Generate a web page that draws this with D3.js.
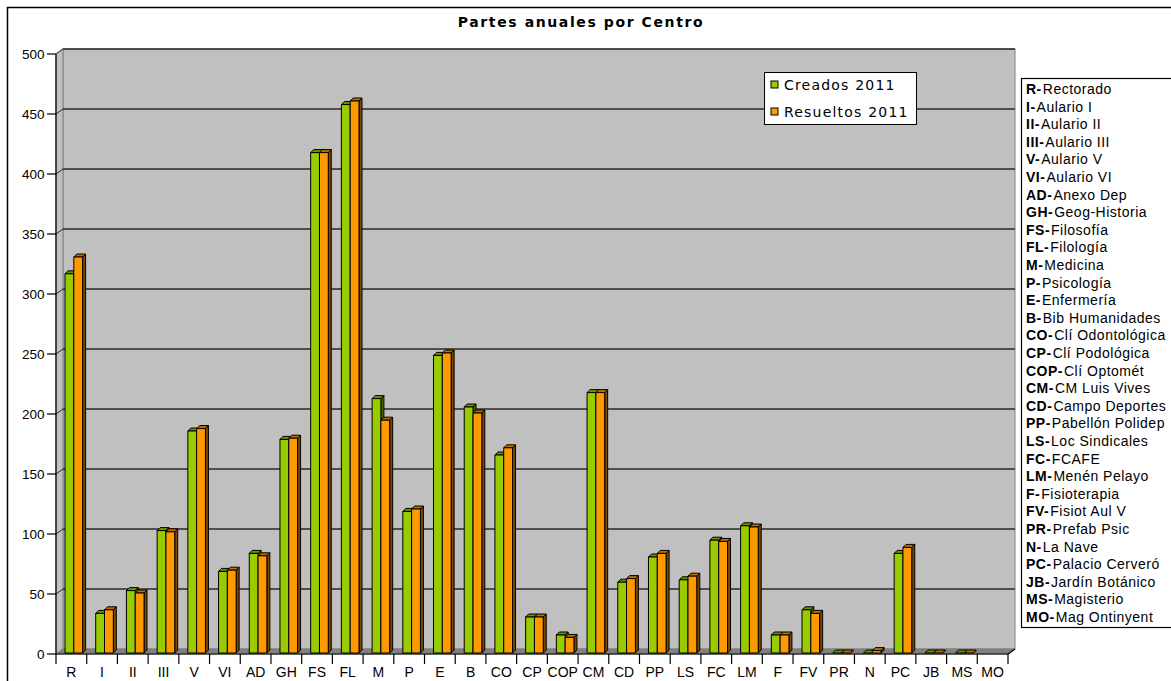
<!DOCTYPE html>
<html><head><meta charset="utf-8">
<script src="https://cdn.jsdelivr.net/npm/d3@7"></script>
<style>body{margin:0;background:#fff}svg{display:block}</style>
</head><body>
<svg id="c" width="1171" height="681"></svg>
<script>
const categories = ["R","I","II","III","V","VI","AD","GH","FS","FL","M","P","E","B","CO","CP","COP","CM","CD","PP","LS","FC","LM","F","FV","PR","N","PC","JB","MS","MO"];
const names = ["Rectorado","Aulario I","Aulario II","Aulario III","Aulario V","Aulario VI","Anexo Dep","Geog-Historia","Filosofía","Filología","Medicina","Psicología","Enfermería","Bib Humanidades","Clí Odontológica","Clí Podológica","Clí Optomét","CM Luis Vives","Campo Deportes","Pabellón Polidep","Loc Sindicales","FCAFE","Menén Pelayo","Fisioterapia","Fisiot Aul V","Prefab Psic","La Nave","Palacio Cerveró","Jardín Botánico","Magisterio","Mag Ontinyent"];
const creados   = [316,33,52,102,185,68,83,178,417,457,212,118,248,205,165,30,15,217,59,80,61,94,106,15,36,0,0,83,0,0,null];
const resueltos = [330,36,50,101,187,69,81,179,417,460,194,120,250,200,171,30,13,217,62,83,64,93,105,15,33,0,2,88,0,0,null];
const yTicks = [0,50,100,150,200,250,300,350,400,450,500];
const seriesNames = ["Creados 2011","Resueltos 2011"];

const svg = d3.select("#c");
const dx = 7, dy = 5;           // wall depth
const x = d3.scaleBand().domain(categories).range([56,1008]);
const y = d3.scaleLinear().domain([0,500]).range([654,54]);
const yb = v => y(v) - dy;      // back wall
const ybar = v => y(v) - 1;     // bar front

// outer frame
svg.append("path").attr("d","M7.5,681 V7.5 H1171").attr("fill","none").attr("stroke","#000").attr("stroke-width",1.5);

// title
svg.append("text").attr("x",581).attr("y",27).attr("text-anchor","middle")
  .attr("font-family","DejaVu Sans").attr("font-weight","bold").attr("font-size",14)
  .attr("letter-spacing",1.6).text("Partes anuales por Centro");

const x0 = x.range()[0], x1 = x.range()[1];
// back wall
svg.append("rect").attr("x",x0+dx).attr("y",yb(500)).attr("width",x1-x0).attr("height",y(0)-y(500))
  .attr("fill","#c0c0c0").attr("stroke","#808080");
// left wall
svg.append("path").attr("d",`M${x0},${y(500)} L${x0+dx},${yb(500)} L${x0+dx},${yb(0)} L${x0},${y(0)} Z`)
  .attr("fill","#c0c0c0").attr("stroke","#808080");
// gridlines
yTicks.filter(v=>v>0).forEach(v=>{
  svg.append("line").attr("x1",x0+dx).attr("x2",x1+dx).attr("y1",yb(v)).attr("y2",yb(v))
    .attr("stroke","#2a2a2a").attr("stroke-width",1.5);
  svg.append("line").attr("x1",x0).attr("x2",x0+dx).attr("y1",y(v)).attr("y2",yb(v))
    .attr("stroke","#2a2a2a").attr("stroke-width",1);
});
// floor
svg.append("path").attr("d",`M${x0},${y(0)} L${x0+dx},${yb(0)} L${x1+dx},${yb(0)} L${x1},${y(0)} Z`)
  .attr("fill","#808080").attr("stroke","#808080");

// bars
const bw = 8.8, off = 9, bd = 3;
const cols = [
  {front:"#99cc00", top:"#6e9200", side:"#4c6600"},
  {front:"#ff9900", top:"#b86e00", side:"#7a4800"}
];
categories.forEach((c,i)=>{
  [creados[i], resueltos[i]].forEach((v,s)=>{
    if (v===null) return;
    const bx = x(c) + off + s*bw;
    const top = ybar(v), base = ybar(0);
    const g = svg.append("g").attr("stroke","#000").attr("stroke-width",1).attr("stroke-linejoin","round");
    g.append("path").attr("d",`M${bx+bw},${top} L${bx+bw+bd},${top-bd} L${bx+bw+bd},${base-bd} L${bx+bw},${base} Z`).attr("fill",cols[s].side);
    g.append("path").attr("d",`M${bx},${top} L${bx+bd},${top-bd} L${bx+bw+bd},${top-bd} L${bx+bw},${top} Z`).attr("fill",cols[s].top);
    if (v>0) g.append("rect").attr("x",bx).attr("y",top).attr("width",bw).attr("height",base-top).attr("fill",cols[s].front);
  });
});

// axes
const ax = svg.append("g").attr("stroke","#000").attr("stroke-width",1.2);
ax.append("line").attr("x1",x0).attr("x2",x0).attr("y1",y(500)).attr("y2",y(0));
ax.append("line").attr("x1",x0).attr("x2",x1).attr("y1",y(0)).attr("y2",y(0));
ax.append("line").attr("x1",x1).attr("x2",x1+dx).attr("y1",y(0)).attr("y2",yb(0));
ax.append("line").attr("x1",x0).attr("x2",x0+dx).attr("y1",y(500)).attr("y2",yb(500)).attr("stroke","#666");
yTicks.forEach(v=>{
  ax.append("line").attr("x1",47).attr("x2",x0).attr("y1",y(v)).attr("y2",y(v));
  svg.append("text").attr("x",44.5).attr("y",y(v)+5).attr("text-anchor","end")
    .attr("font-family","Liberation Sans, Arial").attr("font-size",13.5).text(v);
});
categories.forEach((c,i)=>{
  ax.append("line").attr("x1",x(c)).attr("x2",x(c)).attr("y1",y(0)).attr("y2",y(0)+10);
  svg.append("text").attr("x",x(c)+x.bandwidth()/2).attr("y",677).attr("text-anchor","middle")
    .attr("font-family","Liberation Sans, Arial").attr("font-size",14).text(c);
});
ax.append("line").attr("x1",x1).attr("x2",x1).attr("y1",y(0)).attr("y2",y(0)+10);

// series legend
const lg = svg.append("g");
lg.append("rect").attr("x",764.5).attr("y",72.5).attr("width",152).attr("height",52).attr("fill","#fff").attr("stroke","#000");
seriesNames.forEach((n,i)=>{
  const yy = 85 + i*27;
  lg.append("rect").attr("x",771).attr("y",yy-4).attr("width",7).attr("height",7).attr("fill",cols[i].front).attr("stroke","#000");
  lg.append("text").attr("x",784).attr("y",yy+5).attr("font-family","DejaVu Sans").attr("font-size",14)
    .attr("letter-spacing",1.2).text(n);
});

// right legend
svg.append("rect").attr("x",1021.5).attr("y",78.5).attr("width",160).attr("height",549).attr("fill","#fff").attr("stroke","#000").attr("stroke-width",1.2);
categories.forEach((c,i)=>{
  const t = svg.append("text").attr("x",1026).attr("y",94 + i*17.6)
    .attr("font-family","Liberation Sans, Arial").attr("font-size",14).attr("letter-spacing",0.5);
  t.append("tspan").attr("font-weight","bold").text(c+"-");
  t.append("tspan").attr("dx",1).text(names[i]);
});
</script>
</body></html>
